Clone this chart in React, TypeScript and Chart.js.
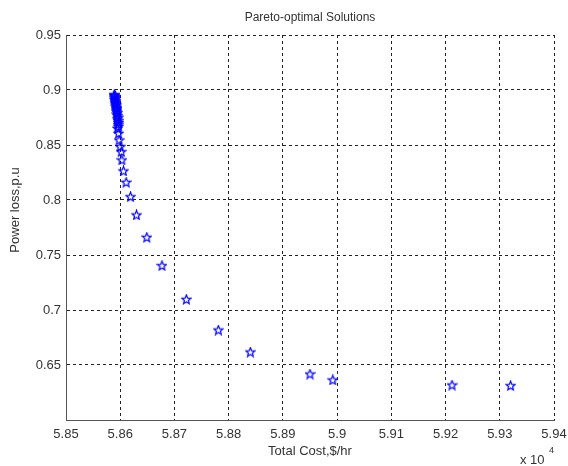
import React, { useEffect, useRef } from "react";
import { Chart, registerables } from "chart.js";
Chart.register(...registerables);

const TITLE = "Pareto-optimal Solutions";
const X_LABEL = "Total Cost,$/hr";
const Y_LABEL = "Power loss,p.u";

// Total cost ($/hr)
const COST = [
  58589, 58590, 58589, 58591, 58590, 58591, 58590, 58592, 58591, 58592, 58591, 58593, 58592,
  58593, 58594, 58593, 58594, 58595, 58594, 58595, 58596, 58595, 58596, 58597, 58596, 58597,
  58595, 58597, 58598, 58600, 58602, 58603, 58606, 58611, 58619, 58630, 58649, 58677, 58722,
  58781, 58840, 58950, 58992, 59212, 59320,
];
// Power loss (p.u)
const LOSS = [
  0.8958, 0.8952, 0.8945, 0.8938, 0.893, 0.8921, 0.8912, 0.8903, 0.8894, 0.8884, 0.8874, 0.8864, 0.8853,
  0.8842, 0.8831, 0.8819, 0.8807, 0.8794, 0.8781, 0.8767, 0.8752, 0.8738, 0.8722, 0.8705, 0.8688, 0.867,
  0.8652, 0.8606, 0.8545, 0.8485, 0.8439, 0.8364, 0.8264, 0.8161, 0.803, 0.7864, 0.7661, 0.7403, 0.7097,
  0.6818, 0.6618, 0.6418, 0.6364, 0.6318, 0.6312,
];

const X_TICKS = [58500, 58600, 58700, 58800, 58900, 59000, 59100, 59200, 59300, 59400];
const Y_TICKS = [0.6, 0.65, 0.7, 0.75, 0.8, 0.85, 0.9, 0.95];
const Y_HIDDEN_LABEL = 0.6;

function makeStar(): HTMLCanvasElement {
  const c = document.createElement("canvas");
  c.width = 11;
  c.height = 11;
  const g = c.getContext("2d")!;
  g.strokeStyle = "#0000ff";
  g.lineWidth = 1.2;
  g.beginPath();
  const cx = 5.5, cy = 5.8, ro = 4.8, ri = 2.1;
  for (let i = 0; i < 10; i++) {
    const r = i % 2 === 0 ? ro : ri;
    const a = -Math.PI / 2 + (i * Math.PI) / 5;
    const x = cx + r * Math.cos(a);
    const y = cy + r * Math.sin(a);
    if (i === 0) g.moveTo(x, y);
    else g.lineTo(x, y);
  }
  g.closePath();
  g.stroke();
  return c;
}

const textPlugin = {
  id: "matlabText",
  afterDraw(chart: any) {
    const ctx = chart.ctx;
    const { left, right } = chart.chartArea;
    const cx = (left + right) / 2;
    ctx.save();
    ctx.fillStyle = "#333333";
    ctx.textBaseline = "middle";
    ctx.textAlign = "center";
    ctx.font = '12px "Liberation Sans", Arial, sans-serif';
    ctx.fillText(TITLE, cx, 18);
    ctx.font = '13px "Liberation Sans", Arial, sans-serif';
    ctx.fillText(X_LABEL, cx, 451);
    ctx.save();
    ctx.translate(15, 210);
    ctx.rotate(-Math.PI / 2);
    ctx.fillText(Y_LABEL, 0, 0);
    ctx.restore();
    ctx.textAlign = "left";
    ctx.fillText("x 10", 520, 460);
    ctx.font = '9px "Liberation Sans", Arial, sans-serif';
    ctx.fillText("4", 549, 451);
    ctx.restore();
  },
};

export default function App() {
  const ref = useRef<HTMLCanvasElement>(null);
  useEffect(() => {
    const star = makeStar();
    const data = COST.map((x, i) => ({ x, y: LOSS[i] }));
    const gridCommon = {
      color: "#222222",
      lineWidth: 1,
      drawTicks: false,
    };
    const chart = new Chart(ref.current!, {
      type: "scatter",
      data: {
        datasets: [
          {
            data,
            pointStyle: star as any,
            pointRadius: 5,
            borderColor: "#0000ff",
            backgroundColor: "#0000ff",
          },
        ],
      },
      plugins: [textPlugin],
      options: {
        animation: false,
        responsive: false,
        devicePixelRatio: 1,
        layout: { padding: { top: 35, right: 14, left: 0, bottom: 0 } },
        plugins: { legend: { display: false }, tooltip: { enabled: false }, title: { display: false } },
        scales: {
          x: {
            type: "linear",
            min: 58500,
            max: 59400,
            afterBuildTicks: (s: any) => {
              s.ticks = X_TICKS.map((v) => ({ value: v }));
            },
            afterFit: (s: any) => {
              s.height = 46;
              s.paddingLeft = 0;
              s.paddingRight = 0;
            },
            ticks: {
              padding: 7,
              color: "#333333",
              font: { family: '"Liberation Sans", Arial, sans-serif', size: 13 },
              maxRotation: 0,
              autoSkip: false,
              callback: (v: any) => String(Number(v) / 10000),
            },
            grid: gridCommon as any,
            border: { display: true, color: "#555555", width: 1, dash: [3, 3] } as any,
          },
          y: {
            type: "linear",
            min: 0.6,
            max: 0.95,
            afterBuildTicks: (s: any) => {
              s.ticks = Y_TICKS.map((v) => ({ value: v }));
            },
            afterFit: (s: any) => {
              s.width = 66;
              s.paddingTop = 0;
              s.paddingBottom = 0;
            },
            ticks: {
              padding: 5,
              color: "#333333",
              font: { family: '"Liberation Sans", Arial, sans-serif', size: 13 },
              autoSkip: false,
              callback: (v: any) => (v === Y_HIDDEN_LABEL ? "" : String(v)),
            },
            grid: gridCommon as any,
            border: { display: true, color: "#555555", width: 1, dash: [3, 3] } as any,
          },
        },
      } as any,
    });
    return () => chart.destroy();
  }, []);
  return (
    <div style={{ position: "fixed", left: 0, top: 0, width: 568, height: 466, background: "#fff" }}>
      <canvas ref={ref} width={568} height={466} />
    </div>
  );
}
